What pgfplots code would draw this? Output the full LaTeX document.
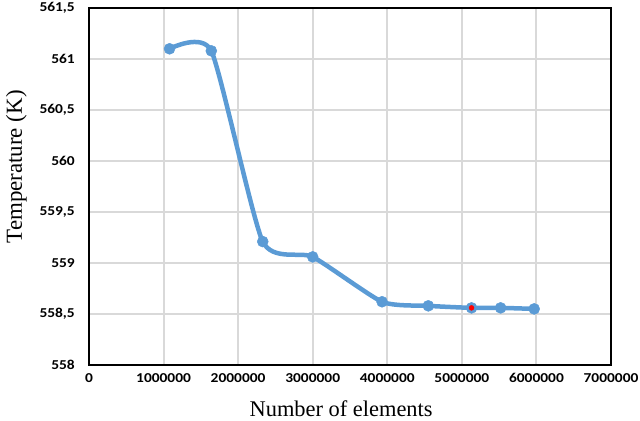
\documentclass[border=0pt]{standalone}
\usepackage{pgfplots}
\pgfplotsset{compat=1.18}
\usepackage{fontspec}
\usepackage{graphicx}
\setmainfont{Liberation Serif}
\newfontfamily\tickfont{Carlito}
\definecolor{exblue}{RGB}{91,155,213}
\definecolor{gridgray}{RGB}{217,217,217}
\begin{document}
\begin{tikzpicture}
\begin{axis}[
    scale only axis,
    width=522bp, height=357bp,
    xmin=0, xmax=7000000,
    ymin=558, ymax=561.5,
    xtick={0,1000000,2000000,3000000,4000000,5000000,6000000,7000000},
    ytick={558,558.5,559,559.5,560,560.5,561,561.5},
    scaled x ticks=false,
    grid=major,
    major grid style={gridgray, line width=2bp},
    axis line style={black, line width=2.5bp},
    major tick length=0pt,
    /pgf/number format/assume math mode=true,
    tick label style={font=\tickfont\bfseries\fontsize{15.5}{17}\selectfont, inner sep=0pt},
    xticklabel={\scalebox{1}[0.88]{\pgfmathprintnumber[fixed,1000 sep={}]{\tick}}},
    yticklabel={\scalebox{1}[0.88]{\pgfmathprintnumber[fixed,use comma,precision=1]{\tick}}},
    xticklabel style={anchor=north, yshift=-8bp},
    yticklabel style={anchor=east, xshift=-14bp},
    xlabel={Number of elements},
    ylabel={Temperature (K)},
    every axis x label/.style={at={(axis description cs:0.483,-0.143)}, anchor=base,
        font=\fontsize{22.5}{26}\selectfont},
    every axis y label/.style={at={(axis description cs:-0.1284,0.555)}, rotate=90, anchor=base,
        font=\fontsize{23}{27}\selectfont},
]
\addplot[exblue, line width=4.5bp, smooth, tension=0.35, mark=*, mark size=5.5bp,
    mark options={fill=exblue, draw=exblue, line width=0.5bp}] coordinates {
    (1080000,561.10)
    (1640000,561.08)
    (2330000,559.21)
    (3000000,559.06)
    (3930000,558.62)
    (4550000,558.58)
    (5130000,558.56)
    (5520000,558.56)
    (5970000,558.55)
};
\addplot[only marks, mark=*, mark size=2.5bp, color=red] coordinates {
    (5130000,558.56)
};
\end{axis}
\pgfresetboundingbox
\path[use as bounding box] (-89bp,-56bp) rectangle (551bp,365bp);
\end{tikzpicture}
\end{document}
